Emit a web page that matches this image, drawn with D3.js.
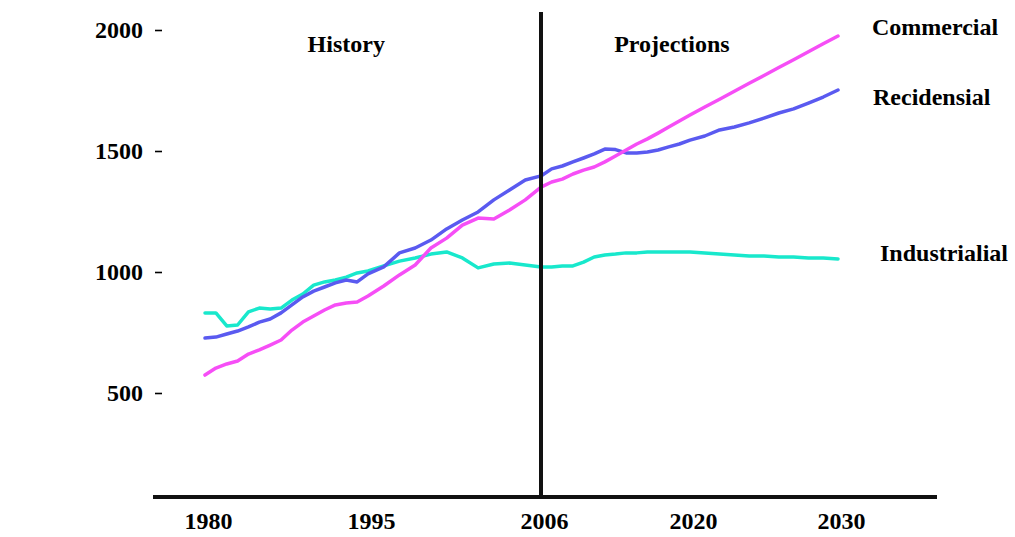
<!DOCTYPE html>
<html>
<head>
<meta charset="utf-8">
<script src="https://cdn.jsdelivr.net/npm/d3@7"></script>
<style>
  body { margin: 0; background: #fff; }
  text { font-family: "Liberation Serif", "Times New Roman", serif; font-weight: bold; fill: #000; }
</style>
</head>
<body>
<div id="chart"></div>
<script>
// yearly values
const years = [1980, 1981, 1982, 1983, 1984, 1985, 1986, 1987, 1988, 1989,
  1990, 1991, 1992, 1993, 1994, 1995, 1996, 1997, 1998, 1999,
  2000, 2001, 2002, 2003, 2004, 2005, 2006, 2007, 2008, 2009,
  2010, 2011, 2012, 2013, 2014, 2015, 2016, 2017, 2018, 2019,
  2020, 2021, 2022, 2023, 2024, 2025, 2026, 2027, 2028, 2029, 2030]

const commercial = [574, 603, 620, 632, 661, 678, 698, 719, 760, 793,
  818, 843, 864, 872, 876, 901, 942, 988, 1029, 1099,
  1140, 1194, 1223, 1219, 1256, 1298, 1351, 1372, 1384, 1405,
  1421, 1434, 1455, 1479, 1504, 1529, 1550, 1574, 1599, 1624,
  1649, 1682, 1714, 1747, 1780, 1812, 1845, 1877, 1910, 1943, 1975]

const recidensial = [727, 731, 744, 756, 773, 793, 806, 831, 864, 897,
  921, 938, 955, 967, 959, 992, 1021, 1079, 1099, 1132,
  1178, 1215, 1248, 1298, 1339, 1380, 1397, 1426, 1438, 1455,
  1471, 1488, 1508, 1506, 1492, 1492, 1496, 1504, 1517, 1529,
  1545, 1562, 1587, 1599, 1616, 1636, 1657, 1674, 1698, 1723, 1752]

const industrial = [831, 831, 777, 781, 835, 851, 847, 851, 884, 909,
  946, 959, 967, 979, 996, 1004, 1025, 1045, 1058, 1074,
  1083, 1058, 1017, 1033, 1037, 1029, 1021, 1021, 1025, 1025,
  1041, 1062, 1070, 1074, 1079, 1079, 1083, 1083, 1083, 1083,
  1083, 1079, 1074, 1070, 1066, 1066, 1062, 1062, 1058, 1058, 1054]

const yearTicks = [1980, 1995, 2006, 2020, 2030]
const valueTicks = [500, 1000, 1500, 2000]
const seriesNames = ["Industrialial", "Recidensial", "Commercial"]
const seriesColors = ["#18e8cc", "#5a5af0", "#f64ef6"]
const splitYear = 2006

const w = 1015
const h = 537
const fontSize = '24px'

const svg = d3.select('#chart')
  .append('svg')
  .attr('width', w)
  .attr('height', h)
  .style('background-color', 'white')
  .style('display', 'block')

// the year axis is not evenly spaced in the original
const xScale = d3.scaleLinear()
  .domain(yearTicks)
  .range([205, 368, 541, 690, 838])

const yScale = d3.scaleLinear()
  .domain([500, 2000])
  .range([393, 30])

const allSeries = [industrial, recidensial, commercial]

const line = d3.line()
  .x((d, i) => xScale(years[i]))
  .y(d => yScale(d))

svg.selectAll('.series')
  .data(allSeries)
  .enter()
  .append('path')
  .attr('class', 'series')
  .attr('d', d => line(d))
  .attr('fill', 'none')
  .attr('stroke', (d, i) => seriesColors[i])
  .attr('stroke-width', 3.5)
  .attr('stroke-linejoin', 'round')
  .attr('stroke-linecap', 'round')

// series labels next to the line ends
const labelShift = [[42, -6], [35, 7], [34, -9]]
svg.selectAll('.series-label')
  .data(allSeries)
  .enter()
  .append('text')
  .attr('class', 'series-label')
  .attr('x', (d, i) => xScale(years[years.length - 1]) + labelShift[i][0])
  .attr('y', (d, i) => yScale(d[d.length - 1]) + labelShift[i][1])
  .attr('dy', '0.32em')
  .style('font-size', fontSize)
  .text((d, i) => seriesNames[i])

// history / projections divider
svg.append('line')
  .attr('x1', xScale(splitYear))
  .attr('x2', xScale(splitYear))
  .attr('y1', 12)
  .attr('y2', 497)
  .attr('stroke', '#111')
  .attr('stroke-width', 4)

svg.append('text')
  .attr('x', xScale(1993))
  .attr('y', 52)
  .attr('text-anchor', 'middle')
  .style('font-size', fontSize)
  .text('History')

svg.append('text')
  .attr('x', xScale(2018.3))
  .attr('y', 52)
  .attr('text-anchor', 'middle')
  .style('font-size', fontSize)
  .text('Projections')

// x axis
svg.append('line')
  .attr('x1', 153)
  .attr('x2', 937)
  .attr('y1', 497)
  .attr('y2', 497)
  .attr('stroke', '#111')
  .attr('stroke-width', 4)

const xAxis = d3.axisBottom(xScale)
  .tickValues(yearTicks)
  .tickFormat(d3.format('d'))
  .tickSize(0)
  .tickPadding(15)

svg.append('g')
  .attr('id', 'x-axis')
  .attr('transform', `translate(3, 497)`)
  .call(xAxis)
  .call(g => g.select('.domain').remove())
  .call(g => g.selectAll('text')
    .style('font-size', fontSize)
    .style('font-family', '"Liberation Serif", serif'))

// y axis, dashes drawn as ticks
const yAxis = d3.axisLeft(yScale)
  .tickValues(valueTicks)
  .tickFormat(d3.format('d'))
  .tickSize(7)
  .tickPadding(12)

svg.append('g')
  .attr('id', 'y-axis')
  .attr('transform', `translate(162, 0)`)
  .call(yAxis)
  .call(g => g.select('.domain').remove())
  .call(g => g.selectAll('.tick line').attr('stroke', '#000').attr('stroke-width', 1.6))
  .call(g => g.selectAll('text')
    .style('font-size', fontSize)
    .style('font-family', '"Liberation Serif", serif'))
</script>
</body>
</html>
